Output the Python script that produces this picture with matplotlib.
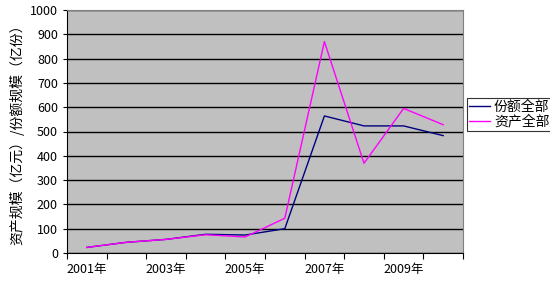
import numpy as np
import matplotlib.pyplot as plt

plt.rcParams['font.family'] = ['Noto Sans CJK SC', 'DejaVu Sans']

years = ['2001年', '2002年', '2003年', '2004年', '2005年',
         '2006年', '2007年', '2008年', '2009年', '2010年']
share_total = [23, 44, 56, 77, 74, 100, 564, 523, 523, 483]
asset_total = [23, 44, 56, 75, 66, 143, 870, 369, 595, 528]

fig = plt.figure(figsize=(5.5, 2.82), dpi=100)
ax = fig.add_axes([67/550, 1 - 253/282, (463-67)/550, (253-10)/282])
ax.set_facecolor('#c0c0c0')

x = np.arange(len(years))
ax.plot(x, share_total, color='#000080', lw=1, label='份额全部')
ax.plot(x, asset_total, color='#ff00ff', lw=1, label='资产全部')

ax.set_xlim(-0.5, len(years) - 0.5)
ax.set_ylim(0, 1000)
ax.set_yticks(np.arange(0, 1001, 100))
ax.yaxis.grid(True, color='black', lw=1)
ax.set_axisbelow(True)

ax.set_xticks(np.arange(-0.5, len(years), 1), minor=False)
ax.set_xticklabels([])
ax.set_xticks(x[::2], minor=True)
ax.set_xticklabels(years[::2], minor=True, fontsize=9)
ax.tick_params(axis='x', which='minor', length=0, pad=7)
ax.tick_params(axis='x', which='major', length=4, direction='out')
ax.tick_params(axis='y', labelsize=9, length=3)

for s in ['top', 'right']:
    ax.spines[s].set_color('#808080')
for s in ['left', 'bottom']:
    ax.spines[s].set_color('black')

ax.set_ylabel('资产规模（亿元）/份额规模（亿份）', fontsize=10, labelpad=4)

leg = ax.legend(loc='center left', bbox_to_anchor=(1.01, 0.57), fontsize=10,
                frameon=True, fancybox=False, edgecolor='black',
                handlelength=1.5, handletextpad=0.3, borderpad=0.15,
                labelspacing=0.05, borderaxespad=0)
leg.get_frame().set_linewidth(0.8)

fig.savefig('out.png', dpi=100)
